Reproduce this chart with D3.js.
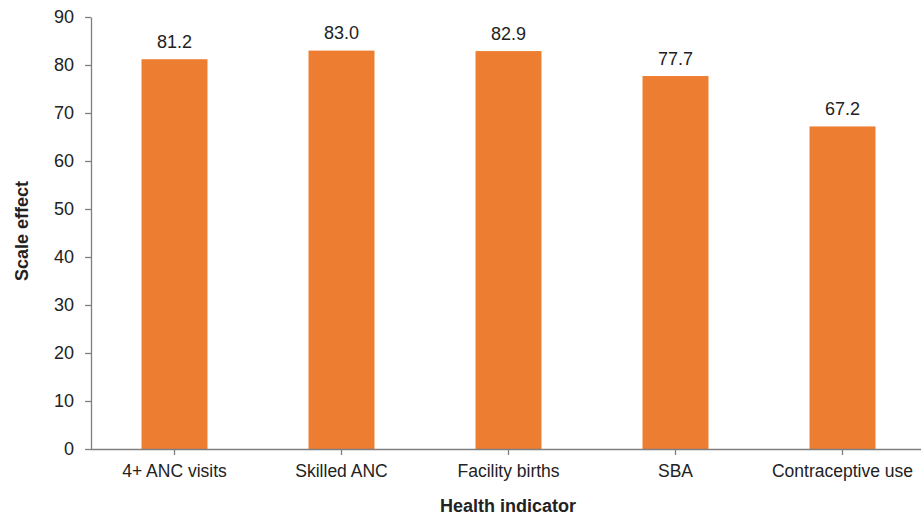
<!DOCTYPE html>
<html><head><meta charset="utf-8">
<script src="https://cdn.jsdelivr.net/npm/d3@7"></script>
<style>body{margin:0;background:#fff}svg{display:block}</style>
</head><body>
<svg id="c" width="921" height="515"></svg>
<script>
const categories = ["4+ ANC visits","Skilled ANC","Facility births","SBA","Contraceptive use"];
const values = [81.2, 83.0, 82.9, 77.7, 67.2];
const yTicks = [0,10,20,30,40,50,60,70,80,90];
const xTitle = "Health indicator";
const yTitle = "Scale effect";

const svg = d3.select("#c");
const font = "'Liberation Sans', Arial, sans-serif";
const x = d3.scaleBand().domain(categories).range([91, 926]).paddingInner(0.605).paddingOuter(0.3025);
const y = d3.scaleLinear().domain([0, 90]).range([449, 17]);

svg.selectAll("rect.bar").data(values).join("rect")
  .attr("class","bar")
  .attr("x",(d,i)=>x(categories[i]))
  .attr("width",x.bandwidth())
  .attr("y",d=>y(d))
  .attr("height",d=>y(0)-y(d))
  .attr("fill","#ED7D31");

svg.selectAll("text.val").data(values).join("text")
  .attr("class","val")
  .attr("x",(d,i)=>x(categories[i])+x.bandwidth()/2)
  .attr("y",d=>y(d)-11.5)
  .attr("text-anchor","middle")
  .attr("font-family",font).attr("font-size",18).attr("fill","#222")
  .text(d=>d.toFixed(1));

const yAxis = svg.append("g").attr("transform","translate(91,0)")
  .call(d3.axisLeft(y).tickValues(yTicks).tickSize(6).tickPadding(11).tickSizeOuter(0));
yAxis.selectAll("text").attr("font-family",font).attr("font-size",18).attr("fill","#222");

const xAxis = svg.append("g").attr("transform","translate(0,449)")
  .call(d3.axisBottom(x).tickSize(6).tickPadding(10).tickSizeOuter(0));
xAxis.selectAll("text").attr("font-family",font).attr("font-size",17.5).attr("fill","#222");
xAxis.select(".domain").attr("d","M91,0.5H921");

svg.selectAll(".domain, .tick line").attr("stroke","#7f7f7f").attr("stroke-width",1.3);

svg.append("text").attr("x",508).attr("y",512).attr("text-anchor","middle")
  .attr("font-family",font).attr("font-size",18).attr("font-weight","bold").attr("fill","#222")
  .text(xTitle);
svg.append("text").attr("transform","translate(28,231) rotate(-90)").attr("text-anchor","middle")
  .attr("font-family",font).attr("font-size",18).attr("font-weight","bold").attr("fill","#222")
  .text(yTitle);
</script>
</body></html>
